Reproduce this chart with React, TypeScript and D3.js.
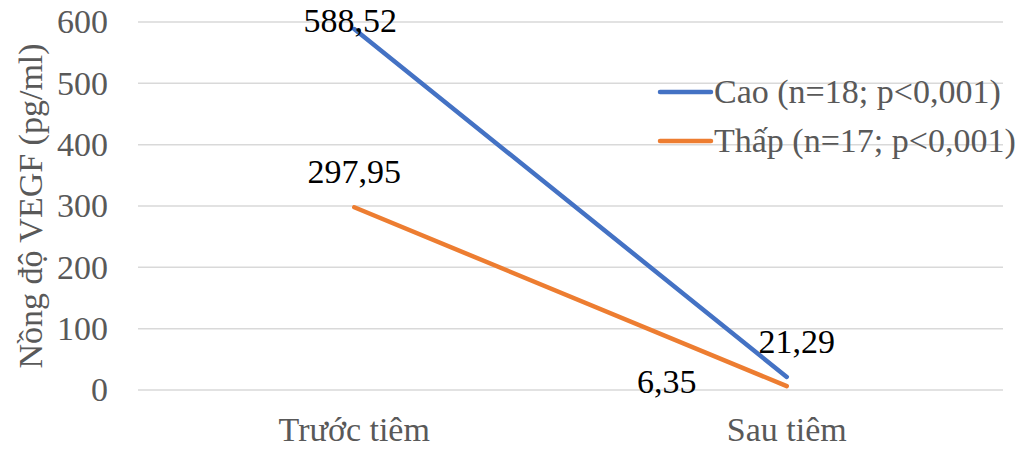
import React from "react";
import * as d3 from "d3";

// Categories on the x axis
const categories = ["Trước tiêm", "Sau tiêm"];
// Series values (pg/ml)
const caoValues = [588.52, 21.29];
const thapValues = [297.95, 6.35];
const seriesNames = ["Cao (n=18; p<0,001)", "Thấp (n=17; p<0,001)"];
const yTicks = [0, 100, 200, 300, 400, 500, 600];
const yTitle = "Nồng độ VEGF (pg/ml)";

const W = 1031;
const H = 449;
const FONT = "'Liberation Serif', 'Times New Roman', serif";
const FS = 34;

const textStyle = { fontFamily: FONT, fontSize: FS };

export default function App() {
  const margin = { left: 138, right: 28, top: 22, bottom: 59 };
  const x = d3
    .scaleBand<string>()
    .domain(categories)
    .range([margin.left, W - margin.right]);
  const y = d3.scaleLinear().domain([0, 600]).range([H - margin.bottom, margin.top]);
  const cx = (c: string) => (x(c) as number) + x.bandwidth() / 2;

  const line = d3
    .line<number>()
    .x((_, i) => cx(categories[i]))
    .y((v) => y(v));

  const series = [
    { name: seriesNames[0], values: caoValues, color: "#4472C4" },
    { name: seriesNames[1], values: thapValues, color: "#ED7D31" },
  ];

  // label offsets per point: [dx, dy] from the point
  const labelOffsets = [
    [[-4, -11], [10, -24]],
    [[0, -24], [-120, 7]],
  ];

  const fmt = (v: number) => v.toFixed(2).replace(".", ",");

  return (
    <svg
      width={W}
      height={H}
      style={{ position: "absolute", left: 0, top: 0, background: "#fff" }}
    >
      {yTicks.map((t) => (
        <g key={t}>
          <line
            x1={margin.left}
            x2={W - margin.right}
            y1={y(t)}
            y2={y(t)}
            stroke="#D9D9D9"
            strokeWidth={1.5}
          />
          <text
            x={108}
            y={y(t)}
            dy="0.33em"
            textAnchor="end"
            style={textStyle}
            fill="#595959"
          >
            {t}
          </text>
        </g>
      ))}
      {categories.map((c) => (
        <text
          key={c}
          x={cx(c)}
          y={441}
          textAnchor="middle"
          style={textStyle}
          fill="#595959"
        >
          {c}
        </text>
      ))}
      <text
        transform={`translate(42, ${(y(0) + y(600)) / 2}) rotate(-90)`}
        textAnchor="middle"
        style={textStyle}
        fill="#595959"
      >
        {yTitle}
      </text>
      {series.map((s) => (
        <path
          key={s.name}
          d={line(s.values) || ""}
          fill="none"
          stroke={s.color}
          strokeWidth={4.5}
          strokeLinecap="round"
        />
      ))}
      {series.map((s, si) =>
        s.values.map((v, i) => {
          const [dx, dy] = labelOffsets[si][i];
          const ly = Math.max(y(v) + dy, 32);
          return (
            <text
              key={`${si}-${i}`}
              x={cx(categories[i]) + dx}
              y={ly}
              textAnchor="middle"
              style={textStyle}
              fill="#000"
            >
              {fmt(v)}
            </text>
          );
        })
      )}
      {series.map((s, si) => {
        const ly = 92 + si * 49;
        return (
          <g key={s.name}>
            <line
              x1={660}
              x2={711}
              y1={ly}
              y2={ly}
              stroke={s.color}
              strokeWidth={4.5}
              strokeLinecap="round"
            />
            <text x={714} y={ly + 11} style={textStyle} fill="#595959">
              {s.name}
            </text>
          </g>
        );
      })}
    </svg>
  );
}
